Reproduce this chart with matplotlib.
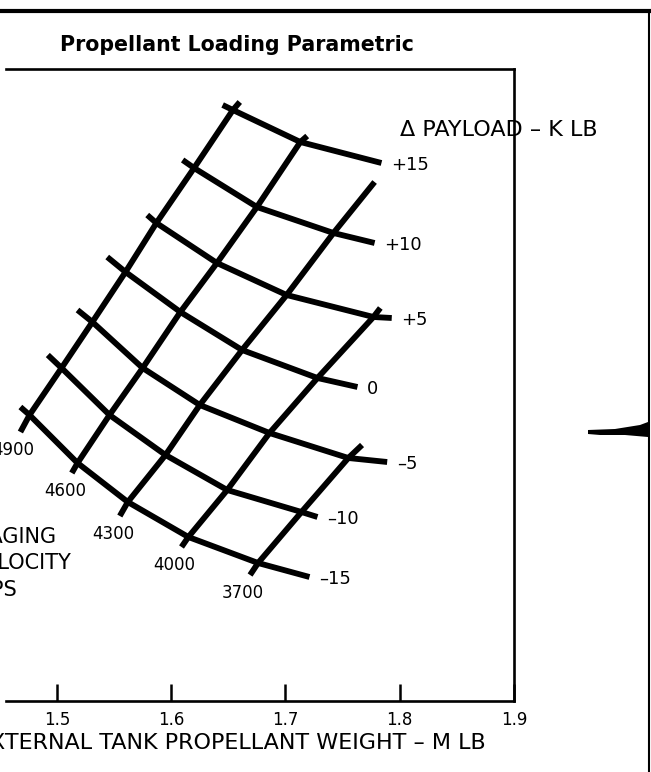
import numpy as np
import matplotlib.pyplot as plt
from matplotlib.lines import Line2D
from matplotlib.patches import Polygon

plt.rcParams['font.family'] = ['DejaVu Sans']

W, H = 651, 772  # figure size in pixels at dpi 100

velocities = [4900, 4600, 4300, 4000, 3700]   # staging velocity - fps
payloads = [15, 10, 5, 0, -5, -10, -15]        # delta payload - k lb

# carpet nodes, rows = payloads, columns = velocities (nan where a line stops short)
nan = np.nan
nodeWeight = np.array([
    [1.654, 1.713, nan,   nan,   nan],
    [1.620, 1.675, 1.742, nan,   nan],
    [1.587, 1.640, 1.701, 1.777, nan],
    [1.560, 1.608, 1.662, 1.728, nan],
    [1.531, 1.575, 1.625, 1.686, 1.755],
    [1.504, 1.546, 1.595, 1.649, 1.714],
    [1.476, 1.518, 1.562, 1.615, 1.676],
])
nodeOrd = np.array([
    [5.91, 5.59, nan,  nan,  nan],
    [5.33, 4.94, 4.68, nan,  nan],
    [4.78, 4.38, 4.06, 3.84, nan],
    [4.29, 3.89, 3.51, 3.23, nan],
    [3.79, 3.33, 2.96, 2.68, 2.43],
    [3.33, 2.86, 2.46, 2.11, 1.89],
    [2.86, 2.38, 1.99, 1.64, 1.38],
])

# ends of the payload lines (left start, right finish)
payStartW = [1.645, 1.610, 1.579, 1.544, 1.518, 1.492, 1.468]
payStartY = [5.96, 5.41, 4.86, 4.44, 3.91, 3.46, 2.94]
payEndW = [1.784, 1.778, 1.793, 1.763, 1.789, 1.728, 1.721]
payEndY = [5.38, 4.58, 3.83, 3.14, 2.39, 1.84, 1.24]

# ends of the velocity lines (bottom, top)
velBotW = [1.468, 1.513, 1.555, 1.609, 1.669]
velBotY = [2.69, 2.28, 1.85, 1.54, 1.26]
velTopW = [1.660, 1.719, 1.778, 1.783, 1.767]
velTopY = [5.99, 5.65, 5.19, 3.93, 2.56]

xTicks = [1.5, 1.6, 1.7, 1.8, 1.9]
xTickLabels = ["1.5", "1.6", "1.7", "1.8", "1.9"]


def fx(px):
    return px / W


def fy(py):
    return 1 - py / H


fig = plt.figure(figsize=(W / 100, H / 100), dpi=100)
ax = fig.add_axes([fx(6), fy(701), fx(514) - fx(6), fy(69) - fy(701)])
ax.set_xlim(1.4554, 1.9)
ax.set_ylim(0, 6.32)

lineStyle = dict(color="black", lw=4.2, solid_capstyle="butt", solid_joinstyle="round")

for i, p in enumerate(payloads):
    keep = ~np.isnan(nodeWeight[i])
    xs = [payStartW[i]] + list(nodeWeight[i][keep]) + [payEndW[i]]
    ys = [payStartY[i]] + list(nodeOrd[i][keep]) + [payEndY[i]]
    ax.plot(xs, ys, **lineStyle)
    label = "0" if p == 0 else f"{p:+d}".replace("-", "\u2013")
    ax.annotate(label, (payEndW[i], payEndY[i]), xytext=(7, -1.5),
                textcoords="offset points", ha="left", va="center", fontsize=13)

for j, v in enumerate(velocities):
    keep = ~np.isnan(nodeWeight[:, j])
    xs = [velBotW[j]] + list(nodeWeight[keep, j][::-1]) + [velTopW[j]]
    ys = [velBotY[j]] + list(nodeOrd[keep, j][::-1]) + [velTopY[j]]
    ax.plot(xs, ys, **lineStyle)
    ax.annotate(str(v), (velBotW[j], velBotY[j]), xytext=(-5, -13),
                textcoords="offset points", ha="center", va="center", fontsize=12)

for side in ["top", "right", "bottom"]:
    ax.spines[side].set_linewidth(1.9)
ax.spines["left"].set_visible(False)
ax.set_yticks([])
ax.set_xticks(xTicks)
ax.set_xticklabels(xTickLabels)
ax.tick_params(axis="x", direction="in", length=12, width=1.8, pad=7, labelsize=12)

ax.set_xlabel("EXTERNAL TANK PROPELLANT WEIGHT \u2013 M LB", fontsize=16, ha="right", va="center")
ax.xaxis.set_label_coords((486 - 6) / 508, -(743 - 701) / 632)

fig.text(fx(60), fy(45), "Propellant Loading Parametric", fontsize=14.8,
         fontweight="bold", ha="left", va="center")
fig.text(fx(400), fy(130), "\u0394 PAYLOAD \u2013 K LB", fontsize=16, ha="left", va="center")
fig.text(fx(57), fy(537), "STAGING", fontsize=15, ha="right", va="center")
fig.text(fx(72), fy(563), "VELOCITY", fontsize=15, ha="right", va="center")
fig.text(fx(17), fy(590), "FPS", fontsize=15, ha="right", va="center")

# page frame: heavy rule on top, thin rule on the right, and the mark by the margin
fig.add_artist(Line2D([0, 1], [fy(11), fy(11)], color="black", lw=3))
fig.add_artist(Line2D([fx(649), fx(649)], [0, fy(11)], color="black", lw=1.5))
wedge = [(588, 430), (615, 429), (640, 425), (648, 422), (648, 437), (625, 435), (600, 435), (588, 434)]
fig.add_artist(Polygon([(fx(a), fy(b)) for a, b in wedge], closed=True,
                       facecolor="black", edgecolor="none", transform=fig.transFigure))

fig.savefig("out.png", dpi=100)
